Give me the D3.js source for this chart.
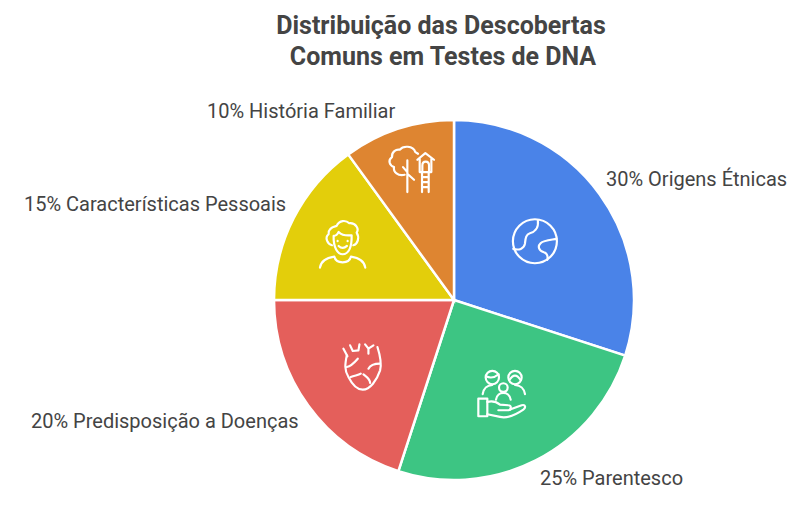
<!DOCTYPE html>
<html>
<head>
<meta charset="utf-8">
<script src="https://d3js.org/d3.v7.min.js"></script>
<style>
  html, body { margin: 0; padding: 0; background: #fff; }
  text { font-family: Roboto, sans-serif; fill: #444; }
  .title { font-size: 25px; font-weight: 700; text-anchor: middle; }
  .label { font-size: 20px; }
  .icon * { fill: none; stroke: #fff; stroke-width: 6.5; stroke-linecap: round; stroke-linejoin: round; }
</style>
</head>
<body>
<div id="chart"></div>
<script>
var categories = ["Origens Étnicas", "Parentesco", "Predisposição a Doenças", "Características Pessoais", "História Familiar"];
var values = [30, 25, 20, 15, 10];
var colors = ["#4A83E8", "#3DC583", "#E45F5B", "#E3CE0B", "#DE8531"];
var titleLines = ["Distribuição das Descobertas", "Comuns em Testes de DNA"];
var titleX = [441, 443];

// label anchors, same order as the categories
var labelX = [606, 540, 31, 24, 207];
var labelY = [179, 478, 421, 204, 111];

// distance of each icon from the pie centre
var iconRadius = [100, 105, 114, 125, 138];

// icons are traced at 3x, around their own centre
var iconCentres = [[133, 122], [125, 130], [125, 110], [130, 112], [110, 115]];
var icons = [
  `<circle cx="133" cy="122" r="66"/>
   <path d="M142 60C145 85 130 95 118 98C105 102 105 115 103 130C100 145 85 150 68 145"/>
   <path d="M198 115C180 118 160 118 150 128C140 138 145 150 160 155C172 158 172 172 170 178"/>`,
  `<circle cx="97" cy="82" r="20"/><path d="M78 78Q97 88 116 72"/>
   <path d="M68 132C70 115 82 105 97 104"/>
   <circle cx="165" cy="82" r="20"/><path d="M148 90Q165 62 182 90"/>
   <path d="M195 132C193 115 180 105 165 104"/>
   <circle cx="130" cy="112" r="13"/>
   <path d="M108 148C110 135 120 128 130 128C140 128 150 135 152 148"/>
   <path d="M55 145H82V198H55Z"/>
   <path d="M82 155C100 150 110 155 120 163L145 165C155 165 155 180 145 180H115"/>
   <path d="M150 178L185 165C197 162 198 172 190 178C165 195 140 205 120 200L82 192"/>`,
  `<path d="M80 75C75 100 72 120 85 140C95 160 110 178 128 178C150 178 170 150 180 120C185 100 180 75 172 50"/>
   <path d="M70 55L82 78M90 45L98 62L115 60L118 42M135 42L145 55L160 45M145 55V70"/>
   <path d="M80 110C90 108 100 100 113 85M145 115C150 105 165 100 180 100"/>
   <path d="M92 140C105 135 115 135 122 130M130 132C140 140 150 145 150 158"/>`,
  `<path d="M98 118C85 115 75 95 88 85C85 65 105 62 112 60C120 42 140 42 150 52C170 50 180 70 172 80C182 95 175 115 162 118"/>
   <path d="M103 90C102 125 115 145 130 145C148 145 158 125 157 88C140 90 125 85 118 78C115 85 110 90 103 90Z"/>
   <path d="M115 105V106M145 105V106M118 120Q130 132 143 120"/>
   <path d="M62 185C65 165 85 155 105 152C110 175 150 175 155 152C175 155 195 165 198 185"/>`,
  `<path d="M90 133C70 138 55 125 58 110C45 105 38 90 52 80C50 65 65 55 75 58C85 45 115 45 122 65L130 70"/>
   <path d="M98 185V90M98 125L85 110M98 130L118 148"/>
   <path d="M128 88L152 68L178 88M135 85V125H170V85"/>
   <path d="M143 125V105C143 90 163 90 163 105V125"/>
   <path d="M142 125V185M162 125V185M142 140H162M142 155H162M142 170H162"/>`
];

var svgWidth = 809;
var svgHeight = 515;
var centerX = 454;
var centerY = 300;
var radius = 180;

var svg = d3.select("#chart")
  .append("svg")
  .attr("width", svgWidth)
  .attr("height", svgHeight)
  .style("display", "block");

svg.selectAll(".title")
  .data(titleLines)
  .enter()
  .append("text")
  .attr("class", "title")
  .attr("x", (d, i) => titleX[i])
  .attr("y", (d, i) => 34 + i * 31)
  .text(d => d);

var pie = d3.pie().sort(null).value(d => d);
var arc = d3.arc().innerRadius(0).outerRadius(radius);
var slices = pie(values);

var pieGroup = svg.append("g")
  .attr("transform", `translate(${centerX}, ${centerY})`);

pieGroup.selectAll("path.slice")
  .data(slices)
  .enter()
  .append("path")
  .attr("class", "slice")
  .attr("d", arc)
  .attr("fill", (d, i) => colors[i])
  .attr("stroke", "#fff")
  .attr("stroke-width", 2.5);

// icons sit on the middle angle of their slice
pieGroup.selectAll("g.icon")
  .data(slices)
  .enter()
  .append("g")
  .attr("class", "icon")
  .attr("transform", (d, i) => {
    var mid = (d.startAngle + d.endAngle) / 2;
    var x = Math.sin(mid) * iconRadius[i];
    var y = -Math.cos(mid) * iconRadius[i];
    return `translate(${x}, ${y}) scale(${1 / 3}) translate(${-iconCentres[i][0]}, ${-iconCentres[i][1]})`;
  })
  .html((d, i) => icons[i]);

svg.selectAll(".label")
  .data(categories)
  .enter()
  .append("text")
  .attr("class", "label")
  .attr("x", (d, i) => labelX[i])
  .attr("y", (d, i) => labelY[i])
  .attr("dy", "0.35em")
  .text((d, i) => `${values[i]}% ${d}`);
</script>
</body>
</html>
